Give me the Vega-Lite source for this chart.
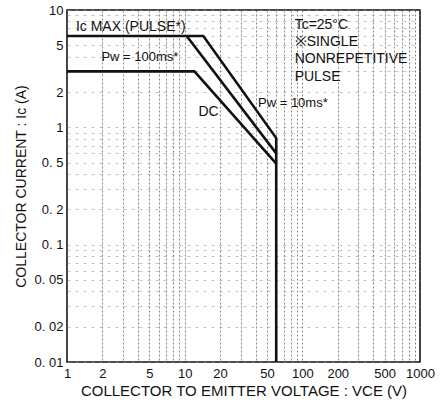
{
  "$schema": "https://vega.github.io/schema/vega-lite/v6.json",
  "width": 353,
  "height": 352,
  "autosize": {"type": "none"},
  "padding": {"left": 67, "top": 10, "right": 23, "bottom": 41},
  "background": "white",
  "config": {
    "view": {"stroke": "#111", "strokeWidth": 1.6},
    "font": "Liberation Sans",
    "axis": {
      "labelFont": "Liberation Sans",
      "titleFont": "Liberation Sans",
      "labelColor": "#111",
      "titleColor": "#111",
      "titleFontWeight": "normal",
      "labelFontSize": 13,
      "titleFontSize": 14,
      "ticks": false,
      "domain": false,
      "labelFlush": false,
      "labelOverlap": false
    }
  },
  "datasets": {
    "curves": [
      {"curve": "pulse", "ord": 1, "vce": 1, "ic": 6},
      {"curve": "pulse", "ord": 2, "vce": 14.4, "ic": 6},
      {"curve": "pulse", "ord": 3, "vce": 60, "ic": 0.81},
      {"curve": "pulse", "ord": 4, "vce": 60, "ic": 0.01},
      {"curve": "100ms", "ord": 1, "vce": 10.4, "ic": 6},
      {"curve": "100ms", "ord": 2, "vce": 60, "ic": 0.6},
      {"curve": "dc", "ord": 1, "vce": 1, "ic": 3},
      {"curve": "dc", "ord": 2, "vce": 12.1, "ic": 3},
      {"curve": "dc", "ord": 3, "vce": 60, "ic": 0.49}
    ],
    "notes": [
      {"label": "Ic MAX (PULSE*)", "vce": 1.19, "ic": 7.17},
      {"label": "DC", "vce": 13.1, "ic": 1.35},
      {"label": "Tc=25°C", "vce": 86, "ic": 7.38},
      {"label": "※SINGLE", "vce": 86, "ic": 5.33},
      {"label": "NONREPETITIVE", "vce": 86, "ic": 3.82},
      {"label": "PULSE", "vce": 86, "ic": 2.71}
    ],
    "pwnotes": [
      {"label": "Pw = 100ms*", "vce": 1.96, "ic": 3.97},
      {"label": "Pw = 10ms*", "vce": 42, "ic": 1.61}
    ]
  },
  "encoding": {
    "x": {
      "field": "vce",
      "type": "quantitative",
      "scale": {"type": "log", "domain": [1, 1000], "nice": false},
      "axis": {
        "values": [1, 2, 3, 4, 5, 6, 7, 8, 9, 10, 20, 30, 40, 50, 60, 70, 80, 90, 100, 200, 300, 400, 500, 600, 700, 800, 900, 1000],
        "labelExpr": "indexof([1, 2, 5, 10, 20, 50, 100, 200, 500, 1000], datum.value) >= 0 ? format(datum.value, 'd') : ''",
        "grid": true,
        "gridColor": "#555",
        "gridDash": [2, 2],
        "gridWidth": 0.7,
        "labelPadding": 5,
        "title": "COLLECTOR TO EMITTER VOLTAGE : VCE (V)",
        "titleFontSize": 15,
        "titlePadding": 3
      }
    },
    "y": {
      "field": "ic",
      "type": "quantitative",
      "scale": {"type": "log", "domain": [0.01, 10], "nice": false},
      "axis": {
        "values": [0.01, 0.02, 0.03, 0.04, 0.05, 0.06, 0.07, 0.08, 0.09, 0.1, 0.2, 0.3, 0.4, 0.5, 0.6, 0.7, 0.8, 0.9, 1, 2, 3, 4, 5, 6, 7, 8, 9, 10],
        "labelExpr": "indexof([0.01, 0.02, 0.05, 0.1, 0.2, 0.5, 1, 2, 5, 10], datum.value) >= 0 ? (datum.value >= 1 ? format(datum.value, 'd') : replace(format(datum.value, '.2~f'), '.', '. ')) : ''",
        "grid": true,
        "gridColor": "#999",
        "gridDash": [3, 5],
        "gridWidth": 0.6,
        "labelPadding": 4,
        "title": "COLLECTOR CURRENT : Ic (A)",
        "titlePadding": 6
      }
    }
  },
  "layer": [
    {
      "data": {"name": "curves"},
      "mark": {"type": "line", "color": "#111", "strokeWidth": 2.6, "clip": true, "strokeJoin": "miter"},
      "encoding": {
        "detail": {"field": "curve"},
        "order": {"field": "ord", "type": "quantitative"}
      }
    },
    {
      "data": {"name": "notes"},
      "mark": {"type": "text", "align": "left", "baseline": "middle", "fontSize": 14, "color": "#111", "font": "Liberation Sans"},
      "encoding": {"text": {"field": "label"}}
    },
    {
      "data": {"name": "pwnotes"},
      "mark": {"type": "text", "align": "left", "baseline": "middle", "fontSize": 13, "color": "#111", "font": "Liberation Sans"},
      "encoding": {"text": {"field": "label"}}
    }
  ]
}
